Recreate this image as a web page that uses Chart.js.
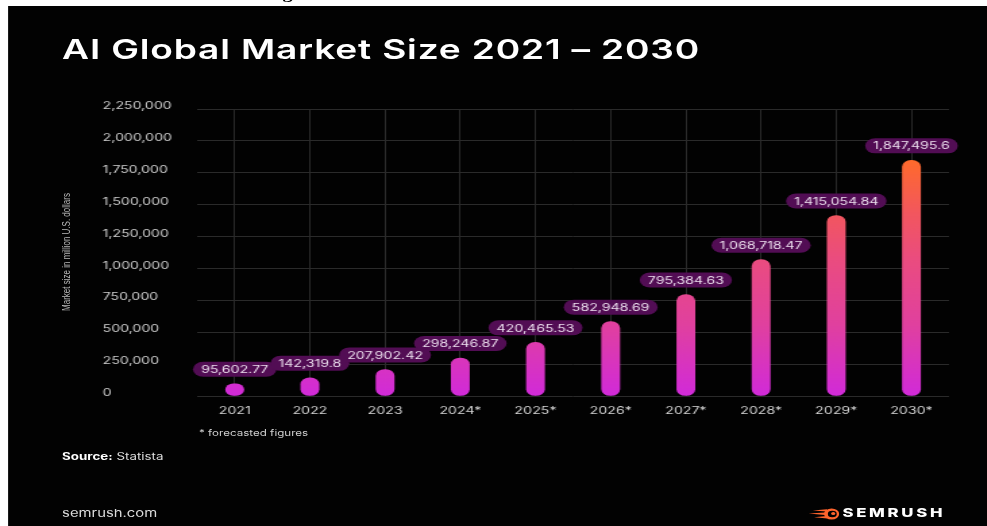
<!DOCTYPE html>
<html>
<head>
<meta charset="utf-8">
<title>AI Global Market Size 2021 – 2030</title>
<script src="https://cdn.jsdelivr.net/npm/chart.js@4/dist/chart.umd.min.js"></script>
<style>
  html, body { margin: 0; padding: 0; width: 987px; height: 526px; overflow: hidden; background: #fff; }
  /* the whole graphic is laid out at 731px and widened to the 987px page */
  #stage { position: absolute; left: 0; top: 0; width: 731px; height: 526px;
           transform: scaleX(1.35); transform-origin: 0 0;
           font-family: Inter, "Open Sans", sans-serif; }
  #caption { position: absolute; left: 196px; top: -13px; font: bold 15px/15px "Liberation Serif", serif;
             color: #000; white-space: nowrap; }
  #panel { position: absolute; left: 6px; top: 6px; width: 726px; height: 520px; background: #020202; }
  .txt { position: absolute; white-space: nowrap; }
  #title { left: 46px; top: 35.5px; font-size: 27.5px; line-height: 27.5px; font-weight: 600; color: #fff; letter-spacing: 0.6px; }
  #yTitle { left: 50.4px; top: 251.5px; font: 8px/8px "Liberation Sans", Arial, sans-serif; color: #b8b8b8;
            transform: translate(-50%, -50%) rotate(-90deg); }
  #note { left: 147.4px; top: 429.2px; font-size: 8.6px; line-height: 8.6px; color: #cfcfcf; }
  #source { left: 46px; top: 452px; font-size: 9.9px; line-height: 9.9px; color: #dedede; }
  #source b { font-weight: 700; color: #fff; }
  #site { left: 46px; top: 507.8px; font-size: 11px; line-height: 11px; color: #dcdcdc; }
  #brand { left: 624px; top: 507.4px; font-size: 12.4px; line-height: 12.4px; font-weight: 800; color: #fff; letter-spacing: 2px; }
  #logo { position: absolute; left: 598px; top: 508px; }
  #chartBox { position: absolute; left: 0; top: 0; width: 731px; height: 526px; }
</style>
</head>
<body>
<div id="stage">
  <div id="caption">Figure 1: Global AI Market Size 2021 – 2030</div>
  <div id="panel"></div>
  <div class="txt" id="title">AI Global Market Size 2021 – 2030</div>
  <div class="txt" id="yTitle">Market size in million U.S. dollars</div>
  <div class="txt" id="note">* forecasted figures</div>
  <div class="txt" id="source"><b>Source:</b> Statista</div>
  <div class="txt" id="site">semrush.com</div>
  <svg id="logo" width="24" height="12" viewBox="0 0 24 12">
    <path d="M4 2.4 L14.5 1.2 L14.8 3.6 Z" fill="#ff642d"/>
    <path d="M1 5.6 L13.2 4.6 L13.2 7 Z" fill="#ff642d"/>
    <path d="M5 9.3 L14.4 8 L15 10.4 Z" fill="#ff642d"/>
    <circle cx="18" cy="6" r="5.6" fill="#ff642d"/>
    <circle cx="18.5" cy="6" r="3.3" fill="#020202"/>
    <circle cx="19.2" cy="5.6" r="1.5" fill="#ff642d"/>
  </svg>
  <div class="txt" id="brand">SEMRUSH</div>
  <div id="chartBox"><canvas id="chart"></canvas></div>
</div>
<script>
// Market size in million U.S. dollars (* = forecast)
const years = ['2021', '2022', '2023', '2024*', '2025*', '2026*', '2027*', '2028*', '2029*', '2030*'];
const marketSize = [95602.77, 142319.8, 207902.42, 298246.87, 420465.53, 582948.69, 795384.63, 1068718.47, 1415054.84, 1847495.6];
const yTicks = [0, 250000, 500000, 750000, 1000000, 1250000, 1500000, 1750000, 2000000, 2250000];

const fmt = v => v.toLocaleString('en-US', { maximumFractionDigits: 2 });
const FONT = 'Inter, "Open Sans", sans-serif';

// vertical magenta → orange fill, shared by all bars
function barFill(context) {
  const chart = context.chart;
  if (!chart.chartArea) return '#d42ad8';
  const y = chart.scales.y;
  const g = chart.ctx.createLinearGradient(0, y.getPixelForValue(0), 0, y.getPixelForValue(Math.max(...marketSize)));
  g.addColorStop(0, '#d12ad9');
  g.addColorStop(0.3, '#e0409f');
  g.addColorStop(0.58, '#ea4c7f');
  g.addColorStop(0.77, '#f2565f');
  g.addColorStop(1, '#ff6a2c');
  return g;
}

// rounded value tags above every bar
const valueTags = {
  id: 'valueTags',
  afterDatasetsDraw(chart) {
    const ctx = chart.ctx;
    const meta = chart.getDatasetMeta(0);
    ctx.save();
    ctx.font = '400 10.5px ' + FONT;
    ctx.textAlign = 'center';
    ctx.textBaseline = 'middle';
    meta.data.forEach((bar, i) => {
      const text = fmt(marketSize[i]);
      const w = ctx.measureText(text).width + 12;
      const h = 15;
      const cx = bar.x, cy = bar.y - 14.5;
      ctx.fillStyle = '#520d54';
      ctx.beginPath();
      ctx.roundRect(cx - w / 2, cy - h / 2, w, h, h / 2);
      ctx.fill();
      ctx.fillStyle = '#ecdfee';
      ctx.fillText(text, cx, cy + 0.5);
    });
    ctx.restore();
  }
};

new Chart(document.getElementById('chart'), {
  type: 'bar',
  data: {
    labels: years,
    datasets: [{
      data: marketSize,
      backgroundColor: barFill,
      barThickness: 13.3,
      borderRadius: 7,
      borderSkipped: false
    }]
  },
  options: {
    responsive: true,
    maintainAspectRatio: false,
    animation: false,
    devicePixelRatio: 1,
    layout: { padding: { left: 76, right: 28, top: 109, bottom: 100 } },
    plugins: { legend: { display: false }, tooltip: { enabled: false } },
    scales: {
      x: {
        grid: { color: '#2a2a2a', lineWidth: 1, drawTicks: false, offset: false },
        border: { display: false },
        ticks: { color: '#d6d6d6', font: { family: FONT, size: 10.5 }, padding: 8.5 },
        afterFit(s) { s.height = 30; }
      },
      y: {
        min: 0,
        max: 2250000,
        grid: { color: '#2a2a2a', lineWidth: 1, drawTicks: false },
        border: { display: false },
        afterBuildTicks(s) { s.ticks = yTicks.map(v => ({ value: v })); },
        ticks: {
          color: '#cfcfcf',
          font: { family: FONT, size: 10.5 },
          crossAlign: 'far',
          labelOffset: -3,
          callback: v => fmt(v)
        },
        afterFit(s) { s.width = 70; }
      }
    }
  },
  plugins: [valueTags]
});
</script>
</body>
</html>
